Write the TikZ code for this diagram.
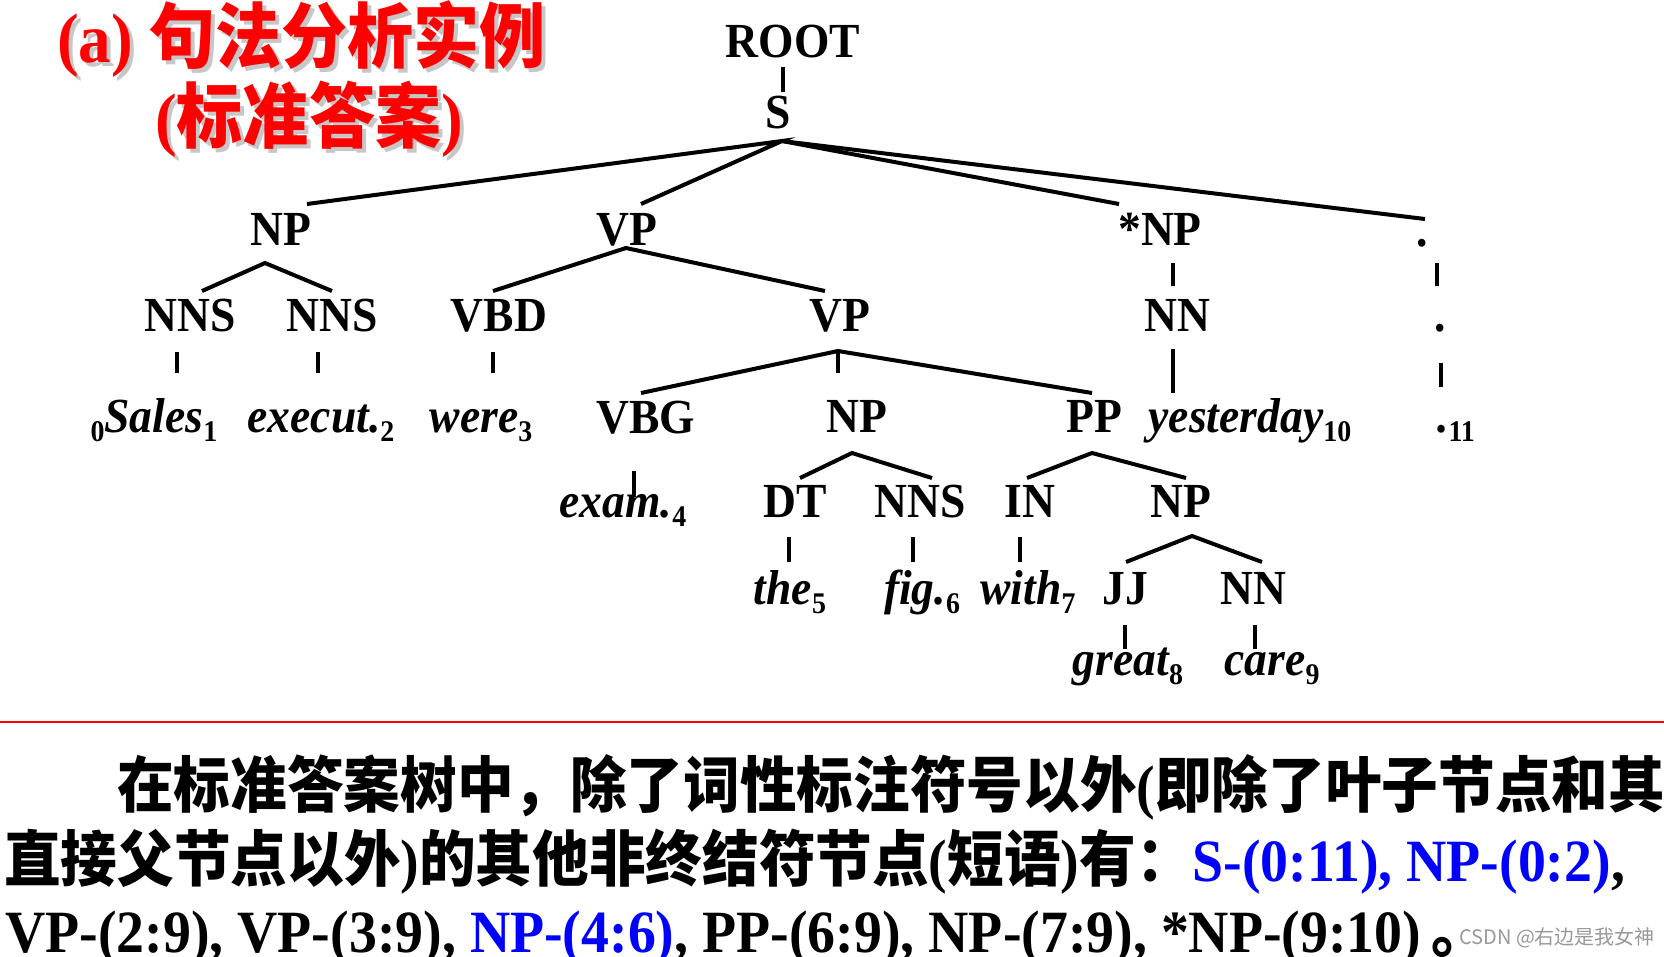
\documentclass[tikz,border=0pt]{standalone}
\usepackage{fontspec}
\setmainfont{Liberation Serif}[FakeStretch=0.93]
\newfontfamily\zh{Noto Sans CJK SC}[FakeStretch=0.93, Scale=1.015]
\newfontfamily\marksans{Noto Sans CJK SC}
\usepackage{xcolor}
\usepackage{tikz}
\usetikzlibrary{positioning,calc}
\newcommand{\idx}[1]{\raisebox{-9pt}{\fontsize{30}{30}\selectfont\upshape\bfseries #1}}
\tikzset{
  tagnode/.style={font=\fontsize{49}{49}\selectfont\bfseries, inner sep=0pt, anchor=base},
  wordnode/.style={font=\fontsize{49}{49}\selectfont\bfseries\itshape, inner sep=0pt, anchor=base},
  branch/.style={line width=4pt},
  titletext/.style={font=\fontsize{70}{70}\selectfont\bfseries, inner sep=0pt, anchor=base west},
  bodyline/.style={font=\fontsize{60}{60}\selectfont\bfseries, inner sep=0pt, anchor=base west},
}

\begin{document}
\begin{tikzpicture}[x=1pt, y=-1pt]
  \fill[white] (0,0) rectangle (1664,956);
  \useasboundingbox (0,0) rectangle (1664,956);

  % title with shadow
  \node[titletext, text=black!22] (titleshadow) at (61,66) {(a) {\zh 句法分析实例}};
  \node[titletext, text=black!22] (subtitleshadow) at (159,146) {({\zh 标准答案})};
  \node[titletext, text=red] (title) at (57,62) {(a) {\zh 句法分析实例}};
  \node[titletext, text=red] (subtitle) at (155,142) {({\zh 标准答案})};

  % tree nodes
  \node[tagnode] (root) at (793,57) {ROOT};
  \node[tagnode] (s) at (778,128) {S};

  \node[tagnode] (np) at (281,245) {NP};
  \node[tagnode] (vp) at (627,245) {VP};
  \node[tagnode] (snp) at (1160,245) {*NP};
  \node[tagnode] (dot2) at (1422,246) {.};

  \node[tagnode] (nns1) at (190,331) {NNS};
  \node[tagnode] (nns2) at (332,331) {NNS};
  \node[tagnode] (vbd) at (499,331) {VBD};
  \node[tagnode] (vp3) at (840,331) {VP};
  \node[tagnode] (nn3) at (1177,331) {NN};
  \node[tagnode] (dot3) at (1440,331) {.};

  \node[wordnode] (w0) at (154,432) {\idx{0}Sales\idx{1}};
  \node[wordnode] (w1) at (321,432) {execut.\idx{2}};
  \node[wordnode] (w2) at (481,432) {were\idx{3}};
  \node[tagnode] (vbg) at (646,433) {VBG};
  \node[tagnode] (np4) at (857,432) {NP};
  \node[tagnode] (pp) at (1094,432) {PP};
  \node[wordnode] (w9) at (1250,432) {yesterday\idx{10}};
  \node[wordnode] (w10) at (1456,432) {.\idx{11}};

  \node[wordnode] (w3) at (623,517) {exam.\idx{4}};
  \node[tagnode] (dt) at (795,517) {DT};
  \node[tagnode] (nns5) at (920,517) {NNS};
  \node[tagnode] (in) at (1030,517) {IN};
  \node[tagnode] (np5) at (1181,517) {NP};

  \node[wordnode] (w4) at (790,604) {the\idx{5}};
  \node[wordnode] (w5) at (922,604) {fig.\idx{6}};
  \node[wordnode] (w6) at (1028,604) {with\idx{7}};
  \node[tagnode] (jj) at (1125,604) {JJ};
  \node[tagnode] (nn6) at (1253,604) {NN};

  \node[wordnode] (w7) at (1128,675) {great\idx{8}};
  \node[wordnode] (w8) at (1272,675) {care\idx{9}};

  % branches
  \draw[branch] ([shift={(-10,10)}]root.base) -- ([shift={(5,-36)}]s.base);
  \draw[branch] ([shift={(26,-41)}]np.base) -- ([shift={(4,13)}]s.base) -- ([shift={(14,-41)}]vp.base);
  \draw[branch] ([shift={(4,13)}]s.base) -- ([shift={(-41,-41)}]snp.base);
  \draw[branch] ([shift={(4,13)}]s.base) -- ([shift={(3,-27)}]dot2.base);

  \draw[branch] ([shift={(12,-40)}]nns1.base) -- ([shift={(-16,18)}]np.base) -- ([shift={(0,-40)}]nns2.base);
  \draw[branch] ([shift={(-6,-40)}]vbd.base) -- ([shift={(-1,3)}]vp.base) -- ([shift={(-15,-40)}]vp3.base);
  \draw[branch] ([shift={(13,18)}]snp.base) -- ([shift={(-4,-45)}]nn3.base);
  \draw[branch] ([shift={(15,17)}]dot2.base) -- ([shift={(-3,-45)}]dot3.base);

  \draw[branch] ([shift={(-13,21)}]nns1.base) -- ([shift={(23,-59)}]w0.base);
  \draw[branch] ([shift={(-14,21)}]nns2.base) -- ([shift={(-3,-59)}]w1.base);
  \draw[branch] ([shift={(-6,21)}]vbd.base) -- ([shift={(12,-59)}]w2.base);
  \draw[branch] ([shift={(-4,18)}]nn3.base) -- ([shift={(-77,-39)}]w9.base);
  \draw[branch] ([shift={(1,32)}]dot3.base) -- ([shift={(-15,-45)}]w10.base);

  \draw[branch] ([shift={(-5,-40)}]vbg.base) -- ([shift={(-2,20)}]vp3.base) -- ([shift={(-2,-39)}]pp.base);
  \draw[branch] ([shift={(-2,20)}]vp3.base) -- ([shift={(-19,-59)}]np4.base);
  \draw[branch] ([shift={(-12,38)}]vbg.base) -- ([shift={(11,-20)}]w3.base);

  \draw[branch] ([shift={(5,-39)}]dt.base) -- ([shift={(-5,21)}]np4.base) -- ([shift={(12,-39)}]nns5.base);
  \draw[branch] ([shift={(-3,-39)}]in.base) -- ([shift={(-2,21)}]pp.base) -- ([shift={(5,-39)}]np5.base);

  \draw[branch] ([shift={(-6,20)}]dt.base) -- ([shift={(-1,-42)}]w4.base);
  \draw[branch] ([shift={(-7,20)}]nns5.base) -- ([shift={(-9,-42)}]w5.base);
  \draw[branch] ([shift={(-10,20)}]in.base) -- ([shift={(-8,-42)}]w6.base);

  \draw[branch] ([shift={(1,-42)}]jj.base) -- ([shift={(11,19)}]np5.base) -- ([shift={(9,-42)}]nn6.base);
  \draw[branch] ([shift={(0,21)}]jj.base) -- ([shift={(-3,-26)}]w7.base);
  \draw[branch] ([shift={(2,21)}]nn6.base) -- ([shift={(-17,-26)}]w8.base);

  % rule and explanation
  \coordinate (ruleL) at (0,722);
  \coordinate (ruleR) at (1664,722);
  \draw[red, line width=2pt] (ruleL) -- (ruleR);

  \node[bodyline] (line1) at (117,807) {{\zh 在标准答案树中，除了词性标注符号以外}({\zh 即除了叶子节点和其}};
  \node[bodyline] (line2) at (4,881) {{\zh 直接父节点以外}){\zh 的其他非终结符节点}({\zh 短语}){\zh 有：}\textcolor{blue}{S-(0:11), NP-(0:2)},};
  \node[bodyline] (line3) at (5,952) {VP-(2:9), VP-(3:9), \textcolor{blue}{NP-(4:6)}, PP-(6:9), NP-(7:9), *NP-(9:10)\,{\zh 。}};

  \node[anchor=base west, inner sep=0pt, font=\marksans\fontsize{20}{20}\selectfont, text=black!40] (mark) at (1459,944) {CSDN @右边是我女神};
\end{tikzpicture}
\end{document}
